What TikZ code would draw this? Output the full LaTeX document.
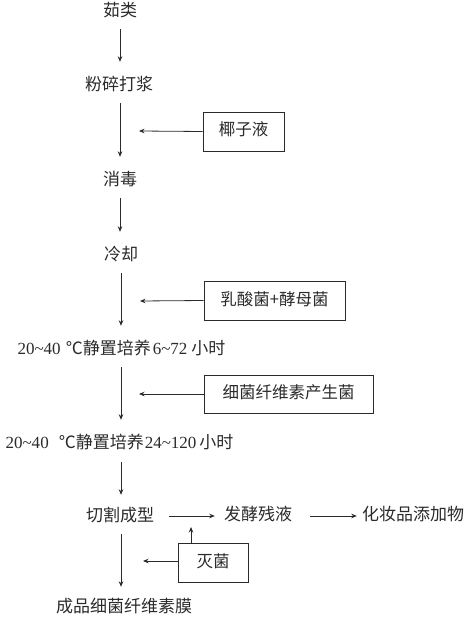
\documentclass[tikz,border=0pt]{standalone}
\usepackage{fontspec}
\setmainfont{Liberation Serif}
\newfontfamily\cjk{Noto Sans CJK SC}
\usetikzlibrary{arrows.meta}
\definecolor{ink}{HTML}{2A2A2A}
\tikzset{
  txt/.style={inner sep=0pt, minimum height=17pt, text height=13pt, text depth=3.5pt, font=\fontsize{17}{17}\selectfont\cjk, text=ink},
  boxnode/.style={draw=ink, line width=0.8pt, inner sep=0pt, font=\fontsize{16.5}{16.5}\selectfont\cjk, text=ink, text height=12.5pt, text depth=3.5pt},
  arr/.style={draw=ink, line width=0.8pt, -{Stealth[length=5.5pt,width=4.5pt]}},
  down/.style={arr, shorten <=8.5pt, shorten >=15.5pt},
  downb/.style={arr, shorten <=8.5pt, shorten >=12.5pt}
}
\begin{document}
\begin{tikzpicture}[x=1pt,y=-1pt]
\useasboundingbox (0,0) rectangle (465,620);
% main column
\node[txt] (n1) at (120,12) {茹类};
\node[txt] (n2) at (119,86) {粉碎打浆};
\node[txt] (n3) at (120,181) {消毒};
\node[txt] (n4) at (121,256) {冷却};
\node[txt] (n5) at (121.5,350) {{\rmfamily 20\textasciitilde40}\hspace{5pt}℃静置培养\hspace{2pt}{\rmfamily 6\textasciitilde72}\hspace{4pt}小时};
\node[txt] (n6) at (119.5,444) {{\rmfamily 20\textasciitilde40}\hspace{10pt}℃静置培养\hspace{1pt}{\rmfamily 24\textasciitilde120}\hspace{3pt}小时};
\node[txt] (n7) at (120,517) {切割成型};
\node[txt] (n8) at (124,608) {成品细菌纤维素膜};
\node[txt] (f1) at (258,516) {发酵残液};
\node[txt] (f2) at (413,516) {化妆品添加物};
% boxes
\node[boxnode, minimum width=81pt, minimum height=39pt] (b1) at (243.5,131.5) {椰子液};
\node[boxnode, minimum width=141pt, minimum height=39pt] (b2) at (274.5,300.5) {乳酸菌+酵母菌};
\node[boxnode, minimum width=169pt, minimum height=38pt] (b3) at (288.5,394) {细菌纤维素产生菌};
\node[boxnode, minimum width=70pt, minimum height=39pt] (b4) at (213,562.5) {灭菌};
% vertical arrows
\draw[down] (n1.south) -- (n1.south |- n2.north);
\draw[down] (n2.south -| n1.south) -- (n1.south |- n3.north);
\draw[down] (n3.south) -- (n3.south |- n4.north);
\draw[down] (n4.south) -- (n4.south |- n5.north);
\draw[down] (n5.south -| n4.south) -- (n4.south |- n6.north);
\draw[arr, shorten <=9.5pt, shorten >=13.5pt] (n6.south -| n4.south) -- (n4.south |- n7.north);
\draw[downb] (n7.south -| n4.south) -- (n4.south |- n8.north);
% side inputs
\coordinate (h1) at (139,131);
\coordinate (h2) at (140,301);
\coordinate (h3) at (139,394);
\coordinate (h4) at (143,561);
\coordinate (u1) at (191,527);
\draw[arr] (b1.west) -- (h1);
\draw[arr] (b2.west) -- (h2);
\draw[arr] (b3.west) -- (h3);
\draw[arr] (b4.west |- h4) -- (h4);
\draw[arr] (b4.north -| u1) -- (u1);
% horizontal chain
\draw[arr, shorten <=15pt, shorten >=9pt] (n7.east |- f1) -- (f1.west);
\draw[arr, shorten <=18pt, shorten >=5pt] (f1.east) -- (f2.west);
\end{tikzpicture}
\end{document}
